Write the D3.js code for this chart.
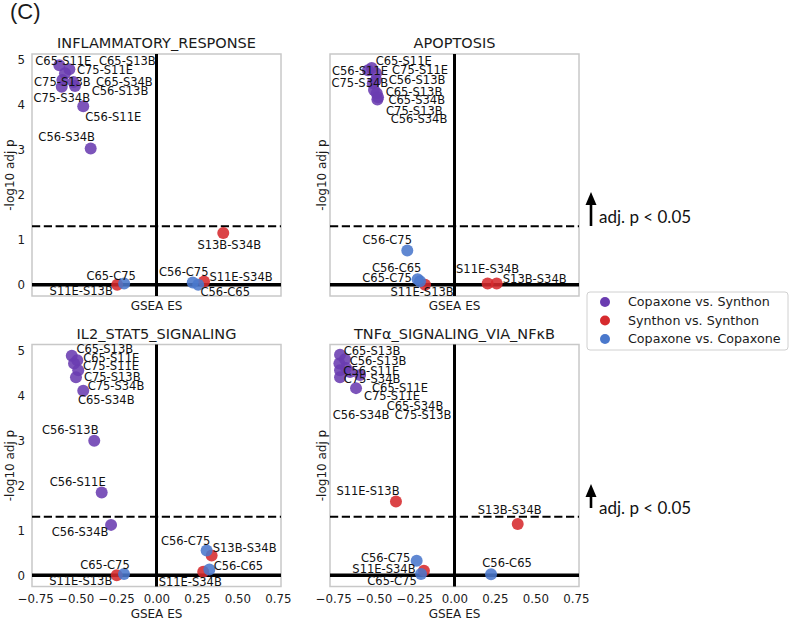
<!DOCTYPE html>
<html>
<head>
<meta charset="utf-8">
<script src="https://cdn.jsdelivr.net/npm/d3@7"></script>
<style>
  html, body { margin: 0; padding: 0; background: #fff; }
  svg { display: block; }
  text { font-family: "DejaVu Sans", sans-serif; }
</style>
</head>
<body>
<svg id="chart" width="790" height="621"></svg>
<script>
// ---------------- DATA ----------------
const panelTitles = ["INFLAMMATORY_RESPONSE", "APOPTOSIS", "IL2_STAT5_SIGNALING", "TNFα_SIGNALING_VIA_NFκB"];
const groupNames = ["Copaxone vs. Synthon", "Synthon vs. Synthon", "Copaxone vs. Copaxone"];
const yTicks = [0, 1, 2, 3, 4, 5];
const xTicks = [-0.75, -0.5, -0.25, 0, 0.25, 0.5, 0.75];
const pThreshold = 0.05;

// INFLAMMATORY_RESPONSE
const inflNames = ["C65-S11E","C65-S13B","C75-S11E","C75-S13B","C65-S34B","C56-S13B","C75-S34B","C56-S11E","C56-S34B","S13B-S34B","S11E-S13B","C65-C75","C56-C75","C56-C65","S11E-S34B"];
const inflES    = [-0.601,-0.539,-0.566,-0.582,-0.514,-0.504,-0.586,-0.453,-0.407,0.413,-0.243,-0.200,0.224,0.258,0.294];
const inflLogP  = [4.88,4.79,4.70,4.55,4.51,4.42,4.40,3.97,3.03,1.15,0.00,0.03,0.05,0.00,0.07];

// APOPTOSIS
const apopNames = ["C65-S11E","C56-S11E","C75-S11E","C75-S34B","C56-S13B","C65-S13B","C65-S34B","C75-S13B","C56-S34B","C56-C75","C56-C65","C65-C75","S11E-S13B","S11E-S34B","S13B-S34B"];
const apopES    = [-0.512,-0.535,-0.485,-0.505,-0.485,-0.498,-0.481,-0.477,-0.473,-0.292,-0.228,-0.213,-0.182,0.205,0.261];
const apopLogP  = [4.82,4.77,4.70,4.48,4.55,4.33,4.26,4.12,4.17,0.76,0.12,0.08,0.00,0.03,0.03];

// IL2_STAT5_SIGNALING
const il2Names = ["C65-S13B","C65-S11E","C75-S11E","C75-S13B","C75-S34B","C65-S34B","C56-S13B","C56-S11E","C56-S34B","C56-C75","S13B-S34B","S11E-S34B","C56-C65","S11E-S13B","C65-C75"];
const il2ES    = [-0.524,-0.490,-0.510,-0.484,-0.498,-0.453,-0.385,-0.339,-0.281,0.310,0.341,0.289,0.327,-0.246,-0.201];
const il2LogP  = [4.88,4.78,4.71,4.56,4.40,4.10,2.99,1.84,1.12,0.55,0.44,0.08,0.13,0.00,0.03];

// TNFα_SIGNALING_VIA_NFκB
const tnfNames = ["C65-S13B","C56-S13B","C56-S11E","C75-S34B","C65-S11E","C75-S11E","C65-S34B","C56-S34B","C75-S13B","S11E-S13B","S13B-S34B","C56-C75","S11E-S34B","C65-C75","C56-C65"];
const tnfES    = [-0.708,-0.677,-0.712,-0.708,-0.584,-0.609,-0.671,-0.708,-0.646,-0.362,0.391,-0.234,-0.189,-0.207,0.226];
const tnfLogP  = [4.90,4.80,4.71,4.56,4.45,4.16,4.61,4.40,4.52,1.64,1.14,0.32,0.10,0.03,0.02];

// ---------------- LAYOUT (label offsets in px, relative to point) ----------------
const inflLabelOffsets = [[4,-4],[58,-8],[40,-3],[0,2],[51,0],[45,5],[0,11],[30,11],[-24,-12],[6,12],[-36,6],[-13,-8],[-9,-11],[27,7],[37,-5]];
const apopLabelOffsets = [[32,-7],[-8,1],[44,-3],[-13,0],[41,0],[40,2],[40,7],[37,11],[41,22],[-20,-11],[-21,-11],[-33,-3],[-3,7],[0,-15],[38,-5]];
const il2LabelOffsets  = [[33,-7],[34,-2],[37,2],[34,7],[40,9],[23,9],[-24,-11],[-24,-11],[-31,7],[-21,-10],[33,-8],[-13,10],[29,-4],[-36,6],[-19,-9]];
const tnfLabelOffsets  = [[32,-4],[33,2],[32,7],[32,9],[40,13],[36,8],[69,38],[21,38],[73,43],[-28,-11],[-8,-14],[-31,-3],[-40,-2],[-29,7],[16,-11]];

const groupColors = ["#6a3cb0", "#d62a2e", "#4a78cc"];

function groupOf(name) {
  const [a, b] = name.split("-");
  if (a[0] === "C" && b[0] === "C") return 2;
  if (a[0] === "S" && b[0] === "S") return 1;
  return 0;
}

const panels = [
  { title: panelTitles[0], names: inflNames, es: inflES, lp: inflLogP, off: inflLabelOffsets, left: 32,  top: 54,    yTickLabels: true,  xTickLabels: false },
  { title: panelTitles[1], names: apopNames, es: apopES, lp: apopLogP, off: apopLabelOffsets, left: 330, top: 54,    yTickLabels: false, xTickLabels: false },
  { title: panelTitles[2], names: il2Names,  es: il2ES,  lp: il2LogP,  off: il2LabelOffsets,  left: 32,  top: 344.5, yTickLabels: true,  xTickLabels: true },
  { title: panelTitles[3], names: tnfNames,  es: tnfES,  lp: tnfLogP,  off: tnfLabelOffsets,  left: 330, top: 344.5, yTickLabels: false, xTickLabels: true },
];
const PW = 249, PH = 242;
const TEXT = "#1a1a1a";

const svg = d3.select("#chart");

svg.append("text").attr("x", 10).attr("y", 19)
  .style("font-family", "'Liberation Sans', Arial, sans-serif")
  .style("font-size", "22px").attr("fill", TEXT).text("(C)");

panels.forEach((p) => {
  const x = d3.scaleLinear().domain([-0.77, 0.77]).range([p.left, p.left + PW]);
  const y = d3.scaleLinear().domain([-0.25, 5.13]).range([p.top + PH, p.top]);
  const g = svg.append("g");

  // frame
  g.append("rect").attr("x", p.left).attr("y", p.top).attr("width", PW).attr("height", PH)
    .attr("fill", "none").attr("stroke", "#c8c8c8").attr("stroke-width", 1.5);

  // title
  g.append("text").attr("x", p.left + PW / 2).attr("y", p.top - 6)
    .attr("text-anchor", "middle").style("font-size", "14.5px").attr("fill", TEXT).text(p.title);

  // y axis ticks
  if (p.yTickLabels) {
    const ya = g.append("g").attr("transform", `translate(${p.left},0)`)
      .call(d3.axisLeft(y).tickValues(yTicks).tickSize(0).tickPadding(7).tickFormat(d3.format("d")));
    ya.select(".domain").remove();
    ya.selectAll("text").style("font-size", "11.8px").style("font-family", "'DejaVu Sans', sans-serif").attr("fill", TEXT);
  }
  // x axis ticks
  if (p.xTickLabels) {
    const xa = g.append("g").attr("transform", `translate(0,${p.top + PH})`)
      .call(d3.axisBottom(x).tickValues(xTicks).tickSize(0).tickPadding(8).tickFormat(d3.format(".2f")));
    xa.select(".domain").remove();
    xa.selectAll("text").style("font-size", "11.8px").style("font-family", "'DejaVu Sans', sans-serif").attr("fill", TEXT);
  }

  // axis labels
  g.append("text").attr("x", p.left + PW / 2).attr("y", p.xTickLabels ? p.top + PH + 31 : p.top + PH + 14)
    .attr("text-anchor", "middle").style("font-size", "12px").attr("fill", TEXT).text("GSEA ES");
  const ylx = p.yTickLabels ? p.left - 22 : p.left - 8.5;
  g.append("text").attr("transform", `translate(${ylx},${p.top + PH / 2}) rotate(-90)`)
    .attr("text-anchor", "middle").attr("dy", "0.35em").style("font-size", "12px").attr("fill", TEXT).text("-log10 adj p");

  // reference lines
  g.append("line").attr("x1", p.left).attr("x2", p.left + PW).attr("y1", y(0)).attr("y2", y(0))
    .attr("stroke", "#000").attr("stroke-width", 3.5);
  g.append("line").attr("x1", x(0)).attr("x2", x(0)).attr("y1", p.top).attr("y2", p.top + PH)
    .attr("stroke", "#000").attr("stroke-width", 3);
  const thr = -Math.log10(pThreshold);
  g.append("line").attr("x1", p.left).attr("x2", p.left + PW).attr("y1", y(thr)).attr("y2", y(thr))
    .attr("stroke", "#000").attr("stroke-width", 2.2).attr("stroke-dasharray", "8.2,3.6");

  // points
  const data = p.names.map((n, i) => ({ name: n, es: p.es[i], lp: p.lp[i], off: p.off[i], grp: groupOf(n) }));
  const ordered = [0, 1, 2].flatMap(k => data.filter(d => d.grp === k));
  g.selectAll("circle.pt").data(ordered).enter().append("circle")
    .attr("class", "pt").attr("cx", d => x(d.es)).attr("cy", d => y(d.lp)).attr("r", 6)
    .attr("fill", d => groupColors[d.grp]).attr("fill-opacity", 0.88);

  // labels
  g.selectAll("text.lbl").data(data).enter().append("text")
    .attr("class", "lbl").attr("x", d => x(d.es) + d.off[0]).attr("y", d => y(d.lp) + d.off[1])
    .attr("text-anchor", "middle").attr("dy", "0.36em").style("font-size", "11.5px").attr("fill", "#111")
    .text(d => d.name);
});

// threshold annotations
const annot = [{ x: 591, y1: 226, y2: 192, ty: 223 }, { x: 591, y1: 508, y2: 484, ty: 514 }];
annot.forEach(a => {
  svg.append("line").attr("x1", a.x).attr("x2", a.x).attr("y1", a.y1).attr("y2", a.y2 + 10)
    .attr("stroke", "#000").attr("stroke-width", 2.6);
  svg.append("path").attr("d", `M${a.x},${a.y2} L${a.x - 5.5},${a.y2 + 13} L${a.x + 5.5},${a.y2 + 13} Z`).attr("fill", "#000");
  svg.append("text").attr("x", a.x + 8).attr("y", a.ty)
    .style("font-family", "Lato, 'Open Sans', sans-serif").style("font-size", "17px").attr("fill", "#111")
    .text("adj. p < 0.05");
});

// legend
const lg = svg.append("g");
lg.append("rect").attr("x", 587).attr("y", 292).attr("width", 201).attr("height", 58).attr("rx", 3)
  .attr("fill", "#fff").attr("stroke", "#d0d0d0").attr("stroke-width", 1);
groupNames.forEach((n, i) => {
  const cy = 302 + i * 18.5;
  lg.append("circle").attr("cx", 605).attr("cy", cy).attr("r", 5).attr("fill", groupColors[i]);
  lg.append("text").attr("x", 628).attr("y", cy).attr("dy", "0.35em").style("font-size", "12.7px").attr("fill", TEXT).text(n);
});
</script>
</body>
</html>
